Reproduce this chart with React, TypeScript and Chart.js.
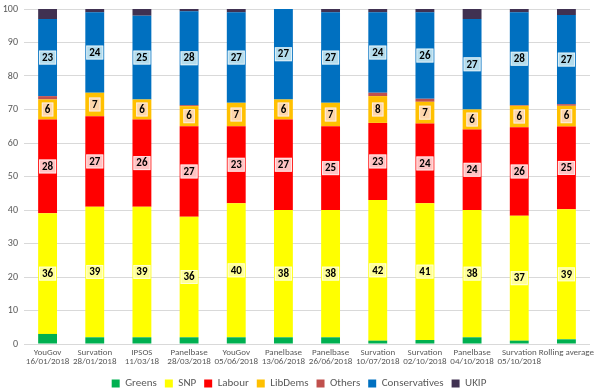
import React, { useEffect, useRef } from "react";
import { Chart, registerables } from "chart.js";

Chart.register(...registerables);

const categories: string[][] = [
  ["YouGov", "16/01/2018"],
  ["Survation", "28/01/2018"],
  ["IPSOS", "11/03/18"],
  ["Panelbase", "28/03/2018"],
  ["YouGov", "05/06/2018"],
  ["Panelbase", "13/06/2018"],
  ["Panelbase", "26/06/2018"],
  ["Survation", "10/07/2018"],
  ["Survation", "02/10/2018"],
  ["Panelbase", "04/10/2018"],
  ["Survation", "05/10/2018"],
  ["Rolling average"],
];

const greens = [3, 2, 2, 2, 2, 2, 2, 1, 1.2, 2, 1, 1.4];
const snp = [36, 39, 39, 36, 40, 38, 38, 42, 40.8, 38, 37.3, 38.8];
const labour = [28, 27, 26, 27, 23, 27, 25, 23, 23.8, 24, 26.4, 24.7];
const libdems = [6, 7, 6, 6, 7, 6, 7, 8, 6.5, 6, 6.4, 6.2];
const others = [1, 0, 0, 0.3, 0, 0, 0, 1, 0.9, 0, 0.2, 0.5];
const conservatives = [23, 24, 25, 28, 27, 27, 27, 24, 25.8, 27, 27.7, 26.6];
const ukip = [3, 1, 2, 1, 1, 0, 1, 1, 1, 3, 1, 1.8];

const yTicks = [0, 10, 20, 30, 40, 50, 60, 70, 80, 90, 100];

const FONT = "Calibri, Carlito, 'Liberation Sans', Arial, sans-serif";

const labelBg: Record<string, string> = {
  SNP: "rgba(255,255,160,0.95)",
  Labour: "rgba(255,205,205,0.95)",
  LibDems: "rgba(253,215,180,0.95)",
  Conservatives: "rgba(190,225,238,0.95)",
};

const labelPlugin = {
  id: "segLabels",
  afterDatasetsDraw(chart: any) {
    const ctx = chart.ctx;
    ctx.save();
    ctx.font = "bold 11px " + FONT;
    ctx.textAlign = "center";
    ctx.textBaseline = "middle";
    chart.data.datasets.forEach((ds: any, di: number) => {
      const bg = labelBg[ds.label];
      if (!bg) return;
      const meta = chart.getDatasetMeta(di);
      meta.data.forEach((el: any, i: number) => {
        const v = ds.data[i];
        const txt = String(Math.round(v));
        const cx = el.x;
        const cy = (el.y + el.base) / 2;
        const w = ctx.measureText(txt).width + 6;
        const h = 14;
        ctx.fillStyle = bg;
        ctx.fillRect(cx - w / 2, cy - h / 2, w, h);
        ctx.strokeStyle = "rgba(255,255,255,0.6)";
        ctx.lineWidth = 1;
        ctx.strokeRect(cx - w / 2 + 0.5, cy - h / 2 + 0.5, w - 1, h - 1);
        ctx.fillStyle = "#000";
        ctx.fillText(txt, cx, cy + 0.5);
      });
    });
    ctx.restore();
  },
};

export default function App() {
  const ref = useRef<HTMLCanvasElement>(null);
  useEffect(() => {
    document.body.style.margin = "0";
    document.body.style.overflow = "hidden";
    const mk = (label: string, data: number[], color: string) => ({
      label,
      data,
      backgroundColor: color,
      borderWidth: 0,
      barPercentage: 0.4,
      categoryPercentage: 1,
    });
    const chart = new Chart(ref.current!, {
      type: "bar",
      data: {
        labels: categories,
        datasets: [
          mk("Greens", greens, "#00b050"),
          mk("SNP", snp, "#ffff00"),
          mk("Labour", labour, "#ff0000"),
          mk("LibDems", libdems, "#ffc000"),
          mk("Others", others, "#c0504d"),
          mk("Conservatives", conservatives, "#0070c0"),
          mk("UKIP", ukip, "#403151"),
        ],
      },
      options: {
        animation: false,
        responsive: false,
        layout: { padding: { top: 0, right: 0, left: 0, bottom: 0 } },
        scales: {
          x: {
            stacked: true,
            grid: { display: false, drawTicks: false, tickLength: 0 },
            border: { display: false },
            ticks: {
              color: "#595959",
              font: { size: 9, family: FONT, lineHeight: 1.0 },
              maxRotation: 0,
              autoSkip: false,
              padding: 4,
            },
          },
          y: {
            stacked: true,
            min: 0,
            max: 100,
            afterBuildTicks: (s: any) => {
              s.ticks = yTicks.map((v) => ({ value: v }));
            },
            afterFit: (s: any) => {
              s.width = 24;
            },
            grid: { color: "#d9d9d9", drawTicks: false },
            border: { display: false },
            ticks: {
              color: "#595959",
              font: { size: 10, family: FONT },
              padding: 6,
            },
          },
        },
        plugins: {
          legend: {
            position: "bottom",
            maxHeight: 22,
            labels: {
              boxWidth: 8,
              boxHeight: 8,
              color: "#595959",
              font: { size: 11, family: FONT },
              padding: 8,
            },
          },
          tooltip: { enabled: false },
        },
      },
      plugins: [labelPlugin],
    });
    return () => chart.destroy();
  }, []);
  return (
    <div style={{ position: "absolute", left: 0, top: -3, width: 598, height: 395 }}>
      <canvas ref={ref} width={598} height={395} />
    </div>
  );
}
